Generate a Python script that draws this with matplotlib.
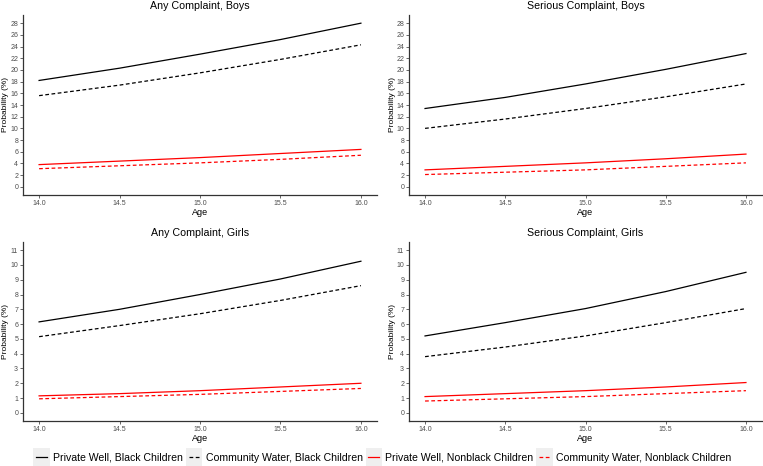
"""Predicted complaint probability by age, water source and race (four panels)."""

import matplotlib.pyplot as plt
from matplotlib.legend_handler import HandlerLine2D
from matplotlib.lines import Line2D
from matplotlib.patches import Rectangle

plt.rcParams["font.family"] = ["Liberation Sans", "DejaVu Sans"]

ages = [14.0, 14.5, 15.0, 15.5, 16.0]
x_ticks = [14.0, 14.5, 15.0, 15.5, 16.0]

panel_titles = [
    "Any Complaint, Boys",
    "Serious Complaint, Boys",
    "Any Complaint, Girls",
    "Serious Complaint, Girls",
]
series_labels = [
    "Private Well, Black Children",
    "Community Water, Black Children",
    "Private Well, Nonblack Children",
    "Community Water, Nonblack Children",
]

# probability (%) at each age, per panel, in the order of series_labels
any_boys = [
    [18.2, 20.3, 22.7, 25.2, 28.0],
    [15.6, 17.4, 19.5, 21.8, 24.3],
    [3.8, 4.4, 5.0, 5.7, 6.4],
    [3.1, 3.6, 4.1, 4.7, 5.4],
]
serious_boys = [
    [13.4, 15.3, 17.6, 20.1, 22.8],
    [10.0, 11.6, 13.4, 15.4, 17.6],
    [2.9, 3.5, 4.1, 4.8, 5.6],
    [2.1, 2.5, 2.9, 3.5, 4.1],
]
any_girls = [
    [6.15, 7.0, 8.0, 9.05, 10.25],
    [5.15, 5.9, 6.7, 7.6, 8.6],
    [1.15, 1.3, 1.5, 1.75, 2.0],
    [0.95, 1.1, 1.25, 1.45, 1.65],
]
serious_girls = [
    [5.2, 6.1, 7.05, 8.2, 9.5],
    [3.8, 4.45, 5.2, 6.1, 7.05],
    [1.1, 1.3, 1.5, 1.75, 2.05],
    [0.8, 0.95, 1.1, 1.3, 1.5],
]

boys_y_ticks = list(range(0, 29, 2))
girls_y_ticks = list(range(0, 12))

colors = ["black", "black", "red", "red"]
styles = ["-", (0, (3, 2)), "-", (0, (3, 2))]


class KeyHandler(HandlerLine2D):
    """ggplot-style legend key: line on a light grey square."""

    def create_artists(self, legend, orig_handle, xdescent, ydescent,
                       width, height, fontsize, trans):
        box = Rectangle((-xdescent - 2, -ydescent - 4), width + 4, height + 8,
                        facecolor="#EFEFEF", edgecolor="none", transform=trans)
        artists = super().create_artists(legend, orig_handle, xdescent, ydescent,
                                         width, height, fontsize, trans)
        return [box] + artists


fig = plt.figure(figsize=(7.63, 4.66), dpi=100)
W, H = 763, 466
boxes = [
    (23, 15, 377, 195),
    (409, 15, 762, 195),
    (23, 242, 377, 421),
    (409, 242, 762, 421),
]
panel_data = [any_boys, serious_boys, any_girls, serious_girls]
panel_ticks = [boys_y_ticks, boys_y_ticks, girls_y_ticks, girls_y_ticks]

for (x0, y0, x1, y1), title, data, y_ticks in zip(boxes, panel_titles,
                                                  panel_data, panel_ticks):
    ax = fig.add_axes([x0 / W, 1 - y1 / H, (x1 - x0) / W, (y1 - y0) / H])
    for values, color, style in zip(data, colors, styles):
        ax.plot(ages, values, color=color, linestyle=style, linewidth=0.9)
    pad_y = 0.05 * y_ticks[-1]
    ax.set_ylim(-pad_y, y_ticks[-1] + pad_y)
    ax.set_xlim(13.9, 16.1)
    ax.set_yticks(y_ticks)
    ax.set_xticks(x_ticks)
    ax.set_xticklabels([f"{t:.1f}" for t in x_ticks])
    ax.tick_params(labelsize=5, colors="#4D4D4D", length=2, width=0.6,
                   pad=1.5)
    for side in ("top", "right"):
        ax.spines[side].set_visible(False)
    for side in ("left", "bottom"):
        ax.spines[side].set_color("#333333")
        ax.spines[side].set_linewidth(0.9)
    ax.set_title(title, fontsize=7.7, pad=4)
    ax.set_xlabel("Age", fontsize=6.5, labelpad=1)
    ax.set_ylabel("Probability (%)", fontsize=6)
    # label sits in the narrow strip left of the tick labels
    ax.yaxis.set_label_coords(-13.5 / (x1 - x0), 0.5)

handles = [
    Line2D([], [], color=c, linestyle=s, linewidth=0.9)
    for c, s in zip(colors, styles)
]
fig.legend(
    handles, series_labels, loc="center", bbox_to_anchor=(0.503, 1 - 458 / H),
    ncol=4, frameon=False, fontsize=7.6, handlelength=1.0, handletextpad=0.6,
    columnspacing=0.55, handler_map={Line2D: KeyHandler()},
)

fig.savefig("out.png", dpi=100)
